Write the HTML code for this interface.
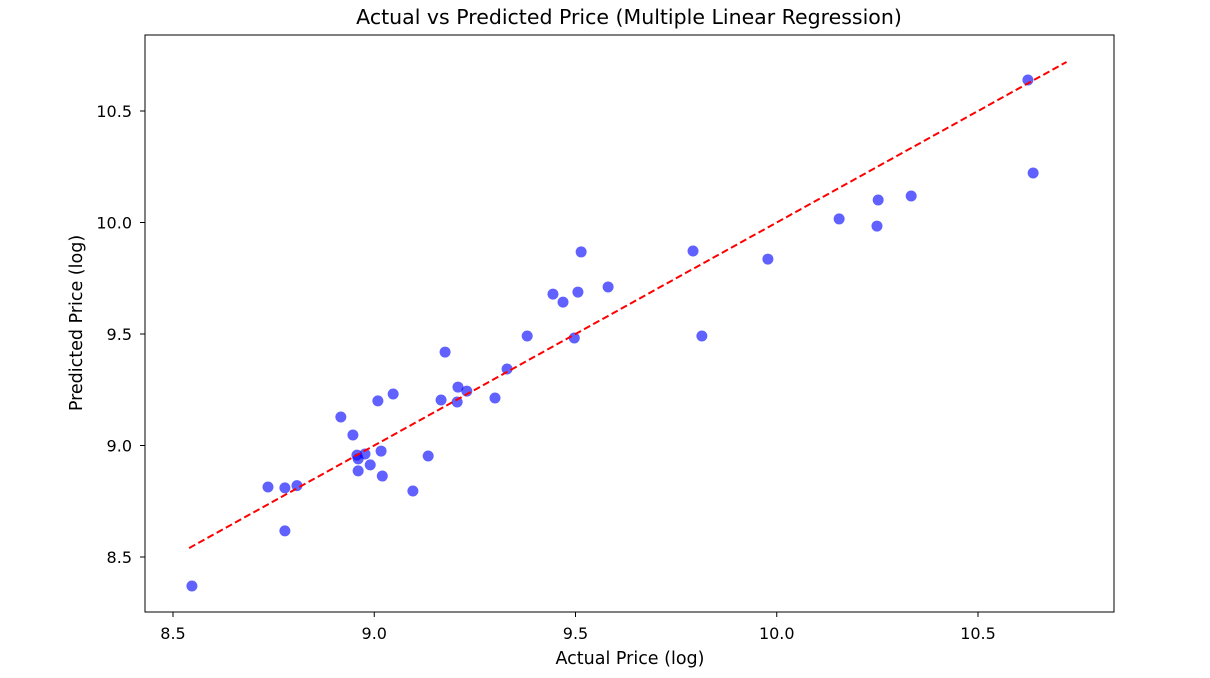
<!DOCTYPE html>
<html><head><meta charset="utf-8">
<style>
html,body{margin:0;padding:0;background:#fff;}
svg{display:block;font-family:"DejaVu Sans","Liberation Sans",sans-serif;}
</style></head>
<body>
<svg id="chart" width="1210" height="678">
  <text x="629" y="24" font-size="20.5" text-anchor="middle" fill="#000">Actual vs Predicted Price (Multiple Linear Regression)</text>
  <rect x="145" y="35" width="969" height="577" fill="none" stroke="#000" stroke-width="1"/>
  <g id="ticks"></g>
  <g id="points"></g>
  <g id="refline"></g>
  <text x="630" y="664" font-size="17.5" text-anchor="middle" fill="#000">Actual Price (log)</text>
  <text x="0" y="0" font-size="17.5" text-anchor="middle" fill="#000" transform="translate(82,323) rotate(-90)">Predicted Price (log)</text>
</svg>
<script>
const actual=[8.547,8.736,8.778,8.778,8.808,8.917,8.947,8.957,8.96,8.96,8.977,8.99,9.009,9.017,9.02,9.047,9.096,9.134,9.166,9.176,9.206,9.208,9.23,9.3,9.33,9.38,9.444,9.469,9.497,9.506,9.514,9.581,9.792,9.814,9.978,10.155,10.249,10.252,10.334,10.624,10.637];
const predicted=[8.37,8.814,8.617,8.81,8.82,9.128,9.047,8.957,8.94,8.886,8.962,8.913,9.2,8.975,8.863,9.231,8.796,8.953,9.204,9.419,9.195,9.262,9.244,9.213,9.343,9.491,9.679,9.643,9.482,9.688,9.868,9.711,9.872,9.491,9.836,10.016,9.984,10.101,10.119,10.639,10.222];
const xTicks=[8.5,9.0,9.5,10.0,10.5];
const yTicks=[8.5,9.0,9.5,10.0,10.5];
const lineRange=[8.54,10.72];

const NS="http://www.w3.org/2000/svg";
function sx(v){return 173+(v-8.5)*402.5;}
function sy(v){return 557-(v-8.5)*223;}
function mk(tag,attrs,parent){const e=document.createElementNS(NS,tag);for(const k in attrs)e.setAttribute(k,attrs[k]);parent.appendChild(e);return e;}

const tg=document.getElementById('ticks');
xTicks.forEach(t=>{
  const x=sx(t);
  const l=mk('line',{x1:x,x2:x,y1:612,y2:617,stroke:'#000'},tg);
  
  
  const tx=mk('text',{x:x,y:639,'font-size':16,'text-anchor':'middle',fill:'#000'},tg);
  tx.textContent=t.toFixed(1);
  
  
});
yTicks.forEach(t=>{
  const y=sy(t);
  const l=mk('line',{x1:140,x2:145,y1:y,y2:y,stroke:'#000'},tg);
  
  
  const tx=mk('text',{x:132,y:y+6,'font-size':16,'text-anchor':'end',fill:'#000'},tg);
  tx.textContent=t.toFixed(1);
  
  
});
const pg=document.getElementById('points');
actual.forEach((a,i)=>{
  const c=mk('circle',{cx:sx(a),cy:sy(predicted[i]),r:5.5,fill:'#0000ff','fill-opacity':0.62},pg);
  
  
});
const rl=mk('line',{x1:sx(lineRange[0]),y1:sy(lineRange[0]),x2:sx(lineRange[1]),y2:sy(lineRange[1]),stroke:'#ff0000','stroke-width':2,'stroke-dasharray':'7,3.5'},document.getElementById('refline'));


</script>
</body></html>
